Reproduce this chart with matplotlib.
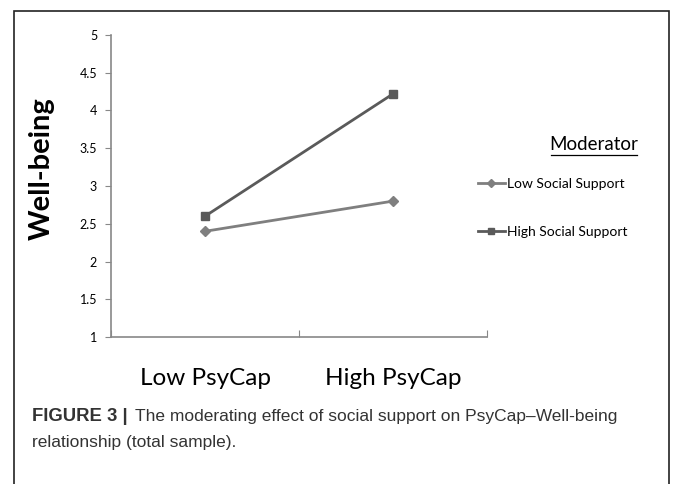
import matplotlib.pyplot as plt
from matplotlib.lines import Line2D
from matplotlib.patches import Rectangle

# data
categories = ['Low PsyCap', 'High PsyCap']
low_support = [2.4, 2.8]
high_support = [2.6, 4.22]
series_names = ['Low Social Support', 'High Social Support']
y_ticks = [1, 1.5, 2, 2.5, 3, 3.5, 4, 4.5, 5]

plt.rcParams['font.family'] = ['Lato', 'DejaVu Sans']

fig = plt.figure(figsize=(6.73, 4.84), dpi=100)
ax = fig.add_axes([0.165, 0.3037, 0.5586, 0.624])

x = list(range(len(categories)))
l1, = ax.plot(x, low_support, color='#7f7f7f', lw=2, marker='D', ms=5,
              label=series_names[0])
l2, = ax.plot(x, high_support, color='#5a5a5a', lw=2, marker='s', ms=6,
              label=series_names[1])

ax.set_xlim(-0.5, 1.5)
ax.set_ylim(1, 5)
ax.set_yticks(y_ticks)
ax.set_yticklabels(['1', '1.5', '2', '2.5', '3', '3.5', '4', '4.5', '5'], fontsize=9)
ax.set_xticks([-0.5, 0.5, 1.5])
ax.set_xticklabels([])
ax.set_xticks(x, minor=True)
ax.set_xticklabels(categories, minor=True, fontsize=17.5)
ax.tick_params(axis='x', which='minor', length=0, pad=22)
ax.tick_params(axis='x', which='major', length=5, color='#888888', direction='in')
ax.tick_params(axis='y', length=4, color='#888888', pad=6)
for s in ['top', 'right']:
    ax.spines[s].set_visible(False)
for s in ['left', 'bottom']:
    ax.spines[s].set_color('#888888')
    ax.spines[s].set_linewidth(1.2)

fig.text(0.062, 0.652, 'Well-being', rotation=90, fontsize=21, fontweight='bold',
         ha='center', va='center')

# legend
fig.text(0.882, 0.701, 'Moderator', fontsize=13.5, ha='center', va='center')
fig.add_artist(Line2D([0.819, 0.947], [0.680, 0.680], color='black', lw=0.9))
fig.legend(handles=[l1, l2], loc='upper left', bbox_to_anchor=(0.691, 0.658),
           frameon=False, fontsize=10, labelspacing=2.6, handlelength=2.0,
           handletextpad=0.15, markerscale=0.8)

# caption
fig.text(0.048, 0.140, 'FIGURE 3 |', fontsize=13.3, fontweight='bold',
         color='#333333', family='Liberation Sans', va='center')
fig.text(0.200, 0.140, 'The moderating effect of social support on PsyCap\u2013Well-being',
         fontsize=12.5, color='#333333', family='Liberation Sans', va='center')
fig.text(0.048, 0.085, 'relationship (total sample).', fontsize=12.5,
         color='#333333', family='Liberation Sans', va='center')

# border box
fig.add_artist(Rectangle((0.021, -0.05), 0.973, 1.027, transform=fig.transFigure,
                         fill=False, edgecolor='#222222', lw=1.2))

fig.savefig('out.png', dpi=100)
